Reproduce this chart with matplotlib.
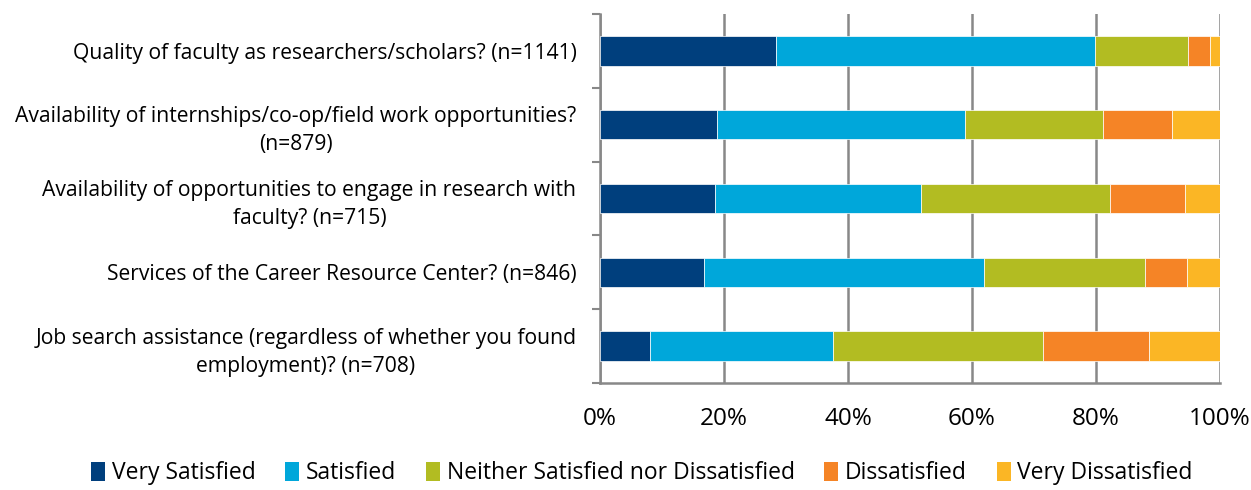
import matplotlib
matplotlib.use("Agg")
import matplotlib.pyplot as plt
from matplotlib.patches import Patch

categories = [
    "Quality of faculty as researchers/scholars? (n=1141)",
    "Availability of internships/co-op/field work opportunities?\n(n=879)",
    "Availability of opportunities to engage in research with\nfaculty? (n=715)",
    "Services of the Career Resource Center? (n=846)",
    "Job search assistance (regardless of whether you found\nemployment)? (n=708)",
]
series_names = ["Very Satisfied", "Satisfied", "Neither Satisfied nor Dissatisfied",
                "Dissatisfied", "Very Dissatisfied"]
very_satisfied = [28.4, 18.8, 18.6, 16.7, 8.0]
satisfied = [51.5, 40.1, 33.2, 45.3, 29.6]
neither = [15.0, 22.3, 30.4, 25.9, 33.8]
dissatisfied = [3.5, 11.1, 12.1, 6.7, 17.2]
very_dissatisfied = [1.6, 7.7, 5.7, 5.4, 11.4]
xticks = [0, 20, 40, 60, 80, 100]
xtick_labels = ["0%", "20%", "40%", "60%", "80%", "100%"]

colors = ["#003F7D", "#00A7DA", "#B2BC22", "#F58426", "#FBB625"]

plt.rcParams['font.family'] = ['Open Sans', 'DejaVu Sans']

fig = plt.figure(figsize=(12.51, 4.9), dpi=100)
ax = fig.add_axes([600/1251, 1-383/490, 620/1251, (383-14)/490])

series = [very_satisfied, satisfied, neither, dissatisfied, very_dissatisfied]
n = len(categories)
ypos = list(range(n))
left = [0.0]*n
for vals, col in zip(series, colors):
    ax.barh(ypos, vals, left=left, height=0.4, color=col, zorder=3,
            edgecolor='white', linewidth=0.5)
    left = [l + v for l, v in zip(left, vals)]

ax.set_xlim(0, 100)
ax.set_ylim(n - 0.5, -0.5)
ax.set_xticks(xticks)
ax.set_xticklabels(xtick_labels, fontsize=17.5)
ax.set_yticks(ypos)
ax.set_yticklabels(categories, fontsize=15.2, multialignment='center',
                   linespacing=1.45)
ax.tick_params(axis='y', length=0, pad=17)
ax.tick_params(axis='x', length=0, pad=17)
ax.set_yticks([i - 0.5 for i in range(n + 1)], minor=True)
ax.tick_params(axis='y', which='minor', length=6, color='#888888', width=1.5)
ax.xaxis.grid(True, color='#888888', linewidth=1.8, zorder=0)
for s in ['top', 'right']:
    ax.spines[s].set_visible(False)
for s in ['left', 'bottom']:
    ax.spines[s].set_color('#888888')
    ax.spines[s].set_linewidth(1.8)

handles = [Patch(facecolor=c, label=l) for c, l in zip(colors, series_names)]
fig.legend(handles=handles, loc='center', bbox_to_anchor=(642/1251, 1-473/490),
           ncol=5, frameon=False, fontsize=16.5, handlelength=0.6, handleheight=0.9,
           handletextpad=0.3, columnspacing=1.3)

fig.savefig("out.png", dpi=100)
